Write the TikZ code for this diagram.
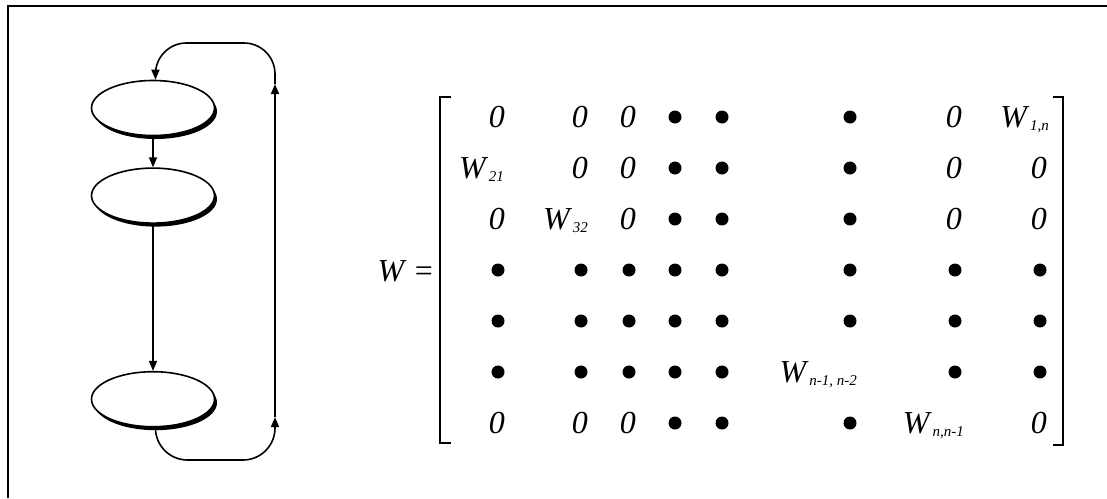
\documentclass[tikz,border=0pt]{standalone}
\usepackage{fontspec}
\setmainfont{Liberation Serif}
\usetikzlibrary{arrows.meta,positioning,shapes.geometric,shadows}

\newcommand{\Wsub}[1]{W\kern3pt\raisebox{-3pt}{\fontsize{15}{15}\selectfont #1}}

\begin{document}
\begin{tikzpicture}[
  x=1pt, y=-1pt,
  state/.style={
    ellipse,
    draw,
    line width=1.6pt,
    fill=white,
    minimum width=123pt,
    minimum height=55pt,
    drop shadow={shadow xshift=2.5pt, shadow yshift=-3.5pt, fill=black, opacity=1}
  },
  arr/.style={-{Triangle[length=10pt,width=8pt]}, line width=1.6pt},
  entry/.style={anchor=base east, inner sep=0pt, font=\fontsize{32}{38}\selectfont\itshape},
  dot/.style={circle, fill=black, inner sep=0pt, minimum size=13pt},
  bracket/.style={line width=1.7pt}
]
  \useasboundingbox (0,0) rectangle (1107,498);
  % frame
  \draw[line width=2.5pt] (8,498) -- (8,6) -- (1107,6);

  % chain of states
  \node[state] (e1) at (153,108) {};
  \node[state,below=31pt of e1] (e2) {};
  \node[state,below=147pt of e2] (e3) {};
  \draw[arr] (e1) -- (e2);
  \draw[arr] (e2) -- (e3);

  % feedback loop
  \coordinate (loop-bot) at (275,460);
  \coordinate (up-bot) at (275,417);
  \coordinate (up-top) at (275,84);
  \coordinate (loop-top) at (275,43);
  \draw[arr, rounded corners=32pt] (e3.-85) |- (loop-bot) -- (up-bot);
  \draw[arr] (up-bot) -- (up-top);
  \draw[arr, rounded corners=31pt] (up-top) -- (loop-top) -| (e1.85);

  % matrix
  \node[entry, font=\fontsize{32}{38}\selectfont] (wlbl) at (433,281) {\textit{W} =};
  \draw[bracket] (451,97) -- (440,97) -- (440,443) -- (451,443);
  \draw[bracket] (1053,97) -- (1063,97) -- (1063,445) -- (1053,445);

  \foreach \y in {117,168,219,423}
    \foreach \x in {675,722,850}
      \node[dot] (d-\x-\y) at (\x,\y) {};
  \foreach \y in {270,321}
    \foreach \x in {498,581,629,675,722,850,955,1040}
      \node[dot] (d-\x-\y) at (\x,\y) {};
  \foreach \x in {498,581,629,675,722,955,1040}
    \node[dot] (d-\x-372) at (\x,372) {};

  \node[entry] (z-1-1) at (505,127) {0};
  \node[entry] (z-1-2) at (588,127) {0};
  \node[entry] (z-1-3) at (636,127) {0};
  \node[entry] (z-1-7) at (962,127) {0};
  \node[entry] (w-1-8) at (1049,127) {\Wsub{1,n}};

  \node[entry] (w-2-1) at (504,178) {\Wsub{21}};
  \node[entry] (z-2-2) at (588,178) {0};
  \node[entry] (z-2-3) at (636,178) {0};
  \node[entry] (z-2-7) at (962,178) {0};
  \node[entry] (z-2-8) at (1047,178) {0};

  \node[entry] (z-3-1) at (505,229) {0};
  \node[entry] (w-3-2) at (588,229) {\Wsub{32}};
  \node[entry] (z-3-3) at (636,229) {0};
  \node[entry] (z-3-7) at (962,229) {0};
  \node[entry] (z-3-8) at (1047,229) {0};

  \node[entry] (w-6-6) at (857,382) {\Wsub{n-1, n-2}};

  \node[entry] (z-7-1) at (505,433) {0};
  \node[entry] (z-7-2) at (588,433) {0};
  \node[entry] (z-7-3) at (636,433) {0};
  \node[entry] (w-7-7) at (964,433) {\Wsub{n,n-1}};
  \node[entry] (z-7-8) at (1047,433) {0};
\end{tikzpicture}
\end{document}
